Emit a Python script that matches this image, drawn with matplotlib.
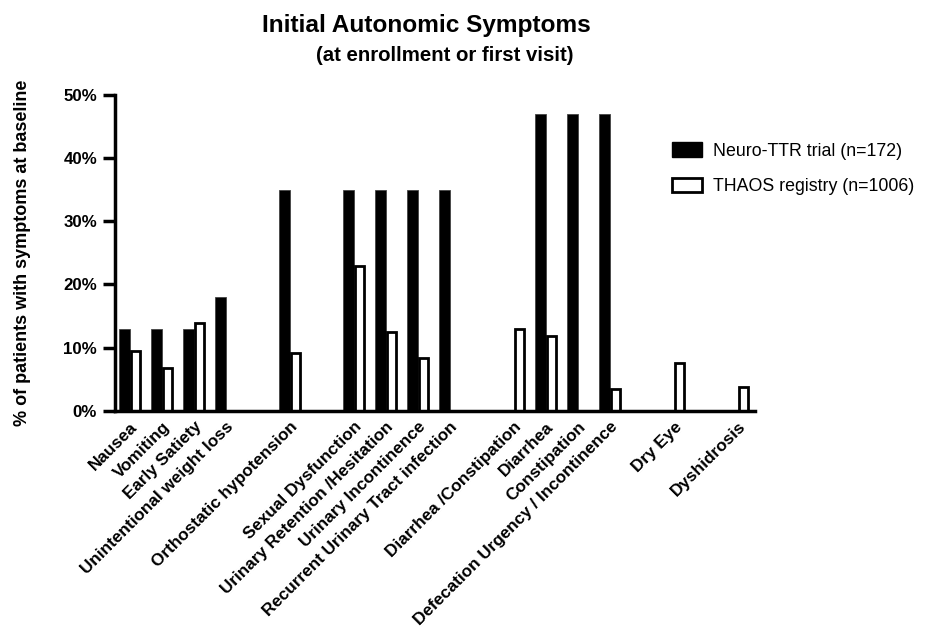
import matplotlib
matplotlib.use("Agg")
import matplotlib.pyplot as plt
from matplotlib.patches import Patch
from matplotlib.ticker import FuncFormatter

plt.rcParams['font.family'] = ['Liberation Sans', 'DejaVu Sans']

# --- data ---
categories = [
    "Nausea", "Vomiting", "Early Satiety", "Unintentional weight loss",
    "Orthostatic hypotension",
    "Sexual Dysfunction", "Urinary Retention /Hesitation", "Urinary Incontinence",
    "Recurrent Urinary Tract infection",
    "Diarrhea /Constipation", "Diarrhea", "Constipation",
    "Defecation Urgency / Incontinence",
    "Dry Eye", "Dyshidrosis",
]
# slot of each category on the x axis (gaps separate the symptom groups)
slots = [0, 1, 2, 3, 5, 7, 8, 9, 10, 12, 13, 14, 15, 17, 19]
neuro_ttr = [13, 13, 13, 18, 35, 35, 35, 35, 35, 0, 47, 47, 47, 0, 0]
thaos = [9.5, 6.8, 13.9, 0, 9.2, 22.9, 12.4, 8.3, 0, 13.0, 11.8, 0, 3.4, 7.5, 3.7]
series_names = ["Neuro-TTR trial (n=172)", "THAOS registry (n=1006)"]
yticks = [0, 10, 20, 30, 40, 50]

fig = plt.figure(figsize=(9.36, 6.32), dpi=100)
ax = fig.add_axes([0.123, 0.350, 0.684, 0.4997])

w = 0.33
xb = [s - w / 2 - 0.01 for s in slots]
xw = [s + w / 2 + 0.01 for s in slots]
for x, v in zip(xb, neuro_ttr):
    if v > 0:
        ax.bar(x, v, width=w, color='black', edgecolor='#444444', linewidth=0.6)
for x, v in zip(xw, thaos):
    if v > 0:
        ax.bar(x, v, width=w * 0.9, color='white', edgecolor='black', linewidth=2.0)

ax.set_xlim(-0.46, 19.54)
ax.set_ylim(0, 50)
ax.set_yticks(yticks)
ax.yaxis.set_major_formatter(FuncFormatter(lambda v, p: f"{int(v)}%"))
ax.set_xticks(slots)
ax.set_xticklabels(categories, rotation=45, ha='right', rotation_mode='anchor',
                   fontsize=12.3, fontweight='bold')
for lab in ax.get_yticklabels():
    lab.set_fontweight('bold')
    lab.set_fontsize(12.2)

ax.spines['top'].set_visible(False)
ax.spines['right'].set_visible(False)
ax.spines['left'].set_linewidth(2.5)
ax.spines['bottom'].set_linewidth(2.5)
ax.tick_params(axis='y', length=9, width=2.5, pad=4)
ax.tick_params(axis='x', length=0, pad=6)

fig.text(23 / 936, 1 - 252.5 / 632, "% of patients with symptoms at baseline",
         rotation=90, ha='center', va='center', fontsize=13, fontweight='bold')

fig.text(0.456, 0.96, "Initial Autonomic Symptoms", ha='center', va='center',
         fontsize=17.6, fontweight='bold')
fig.text(0.475, 0.912, "(at enrollment or first visit)", ha='center', va='center',
         fontsize=14.7, fontweight='bold')

handles = [Patch(facecolor='black', edgecolor='black'),
           Patch(facecolor='white', edgecolor='black', linewidth=2.0)]
fig.legend(handles, series_names, loc='upper left', bbox_to_anchor=(0.7005, 0.8),
           frameon=False, fontsize=12.8, handlelength=1.7, handleheight=0.9,
           labelspacing=1.0, handletextpad=0.6)

fig.savefig("out.png", dpi=100)
